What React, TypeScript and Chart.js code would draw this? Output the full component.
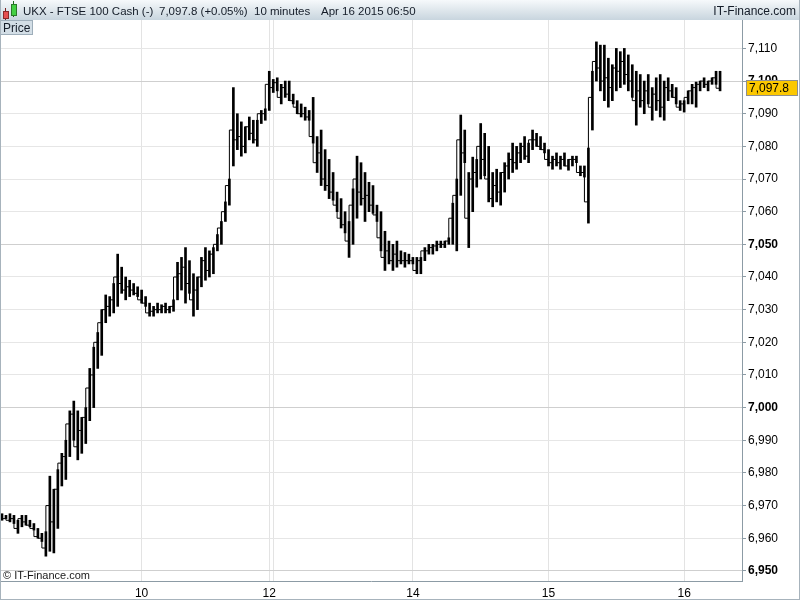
import React, { useEffect, useRef } from 'react';
import { Chart, registerables } from 'chart.js';

Chart.register(...registerables);

// 10-minute bars, UKX FTSE 100 Cash (low / high / close per bar)
const lows = [
  6965.5, 6966, 6965, 6964.5, 6961.5, 6963.5, 6964, 6963.5, 6962.5, 6960,
  6959, 6954.5, 6956, 6955.5, 6963, 6976, 6978, 6985, 6990, 6984,
  6986, 6989, 6996, 7000, 7012, 7016, 7026, 7028, 7029, 7031,
  7035, 7033, 7034, 7034.5, 7034, 7032, 7031, 7028, 7028, 7029,
  7029, 7029, 7029, 7029.5, 7033, 7036, 7032, 7035, 7028, 7030,
  7037, 7039, 7040, 7041, 7048, 7050, 7057, 7062, 7074, 7079,
  7077, 7078, 7082, 7081, 7080, 7087, 7088, 7091, 7096.5, 7097,
  7093, 7095, 7094, 7093, 7090, 7089, 7088, 7088, 7081, 7072,
  7068, 7066.5, 7064, 7063.5, 7060, 7055, 7053.5, 7046, 7050, 7058,
  7062, 7057, 7060, 7059.5, 7057, 7048, 7042, 7044, 7042, 7043,
  7044, 7043, 7044, 7044, 7041, 7041, 7045, 7047, 7047, 7048,
  7049, 7049, 7050, 7050, 7048, 7065, 7075, 7049, 7060, 7067.5,
  7070, 7071, 7063, 7061.5, 7063, 7062, 7066, 7070, 7072, 7073,
  7075, 7076, 7075, 7079, 7080, 7079, 7078, 7074, 7073, 7074,
  7073, 7074, 7072.7, 7074, 7075, 7071, 7070.6, 7056.5, 7085, 7100,
  7097, 7094, 7092, 7094, 7097, 7098, 7099, 7097, 7095, 7086.5,
  7092, 7090, 7093, 7088, 7091, 7089, 7088, 7094, 7095, 7093,
  7091, 7090.5, 7093, 7093, 7092, 7097, 7098, 7097, 7099, 7099,
  7097,
];

const highs = [
  6967.5, 6967, 6967.5, 6967, 6965.5, 6967, 6967, 6965.5, 6964.5, 6963,
  6961.5, 6962, 6979, 6975, 6981, 6986, 6990, 6999, 7002, 6999,
  6997, 7000, 7012, 7018.5, 7023, 7030, 7034.5, 7034, 7038, 7047,
  7043, 7040, 7039, 7038, 7037, 7036, 7034, 7032, 7031, 7032,
  7031.5, 7032, 7031, 7033, 7044.5, 7046, 7049, 7045, 7041, 7040,
  7046, 7049, 7048, 7049, 7053, 7057, 7063, 7070, 7098, 7090,
  7087.5, 7086, 7089, 7088, 7088, 7091, 7091.5, 7103, 7100.5, 7101,
  7099, 7100, 7100, 7096, 7094, 7093, 7092, 7091, 7095, 7083,
  7085, 7079, 7076, 7072, 7066, 7064, 7060, 7057, 7067, 7077,
  7075, 7072, 7069, 7068, 7062, 7060, 7054, 7051, 7050, 7051,
  7048, 7047.5, 7047, 7046, 7046, 7046, 7049, 7050, 7050, 7051,
  7051, 7051, 7052, 7062.6, 7070, 7089.6, 7085, 7072, 7076.7, 7076,
  7087, 7084, 7080, 7072, 7073, 7072, 7075, 7078, 7081, 7080,
  7081, 7083, 7081, 7085, 7084, 7083, 7081, 7079, 7077, 7078,
  7077, 7078, 7076, 7077, 7077, 7074, 7074, 7079.5, 7103, 7112,
  7111, 7111, 7107, 7105, 7110, 7109, 7110, 7108, 7105, 7103,
  7102, 7100, 7102, 7098, 7101, 7102, 7100, 7101, 7099, 7098,
  7094, 7094, 7097, 7099, 7099.7, 7100, 7101, 7100, 7101, 7103,
  7103,
];

const closes = [
  6966.5, 6966, 6965.5, 6966, 6963, 6966, 6965, 6964, 6963, 6960.5,
  6960, 6957, 6970, 6965, 6975, 6983, 6985, 6995, 6998, 6988,
  6993, 6997, 7006, 7010, 7020, 7026, 7030, 7031, 7033, 7040,
  7038, 7036, 7037, 7036, 7035, 7033, 7032, 7029, 7029.5, 7030,
  7030, 7031, 7030, 7031, 7040, 7041, 7043, 7038, 7033, 7036,
  7040, 7045, 7042, 7047, 7050, 7055, 7060, 7068, 7085, 7082,
  7083, 7080, 7086, 7084, 7082, 7090, 7090, 7099, 7098, 7099.5,
  7095, 7098, 7096, 7094, 7092, 7090, 7090, 7089, 7083, 7075,
  7078, 7070, 7068, 7066, 7062, 7058, 7056, 7051, 7062, 7070,
  7066, 7064, 7065, 7062, 7059, 7052, 7046, 7048, 7045, 7047,
  7045, 7045, 7045, 7045, 7042, 7045, 7048, 7048, 7049, 7049.5,
  7050, 7050, 7051, 7058, 7065, 7082, 7078, 7058, 7070, 7072,
  7080, 7076, 7070, 7064, 7068, 7066, 7072, 7074, 7076, 7075,
  7078, 7080, 7077, 7082, 7082, 7080, 7079, 7076, 7075, 7076,
  7075, 7076, 7074, 7076, 7076, 7072, 7072, 7063, 7095, 7106,
  7104, 7100, 7101, 7098, 7104, 7103, 7106, 7102, 7100, 7094,
  7097, 7094, 7097, 7092, 7096, 7094, 7092, 7098, 7097, 7095,
  7092, 7093, 7095, 7097, 7098, 7099, 7100, 7099, 7100, 7101,
  7097.8,
];

const dayTickIndex = [35, 67, 68, 103, 137, 171];
const dayTickLabels = ['10', '12', '', '14', '15', '16'];
const totalSlots = 186;
const yMin = 6946.9;
const yMax = 7118.7;
const lastPrice = 7097.8;

const titleText = 'UKX - FTSE 100 Cash (-)';
const priceText = '7,097.8 (+0.05%)';
const periodText = '10 minutes';
const dateText = 'Apr 16 2015 06:50';
const brandText = 'IT-Finance.com';

const FONT = '"Liberation Sans", Arial, sans-serif';
const AXIS_COLOR = '#8c9ba5';

const priceTagPlugin = {
  id: 'priceTag',
  afterDraw(chart: any) {
    const { ctx, scales } = chart;
    const y = scales.y;
    const py = Math.round(y.getPixelForValue(lastPrice));
    ctx.save();
    ctx.fillStyle = '#FCC800';
    ctx.fillRect(747, py - 7, 50, 14);
    ctx.strokeStyle = '#8f8f8f';
    ctx.lineWidth = 1;
    ctx.strokeRect(746.5, py - 7.5, 51, 15);
    ctx.fillStyle = '#000';
    ctx.font = '12px ' + FONT;
    ctx.textBaseline = 'middle';
    ctx.textAlign = 'left';
    ctx.fillText(lastPrice.toLocaleString('en-US', { minimumFractionDigits: 1 }), 749, py + 1);
    ctx.restore();
  },
};

function PriceChart() {
  const ref = useRef<HTMLCanvasElement | null>(null);
  useEffect(() => {
    if (!ref.current) return;
    const chart = new Chart(ref.current, {
      type: 'bar',
      data: {
        datasets: [
          {
            type: 'line',
            data: closes.map((c, i) => ({ x: i, y: c })),
            borderColor: '#000',
            borderWidth: 1,
            pointRadius: 0,
            stepped: 'after',
          } as any,
          {
            type: 'bar',
            data: lows.map((l, i) => ({ x: i, y: [l, highs[i]] })),
            backgroundColor: '#000',
            borderWidth: 0,
            barThickness: 2,
            minBarLength: 1,
            grouped: false,
          } as any,
        ],
      },
      options: {
        responsive: false,
        animation: false,
        events: [],
        layout: { padding: 0 },
        plugins: { legend: { display: false }, tooltip: { enabled: false }, title: { display: false } },
        scales: {
          x: {
            type: 'linear',
            min: -0.5,
            max: totalSlots - 0.5,
            offset: false,
            afterBuildTicks: (s: any) => {
              s.ticks = dayTickIndex.map((v) => ({ value: v }));
            },
            afterFit: (s: any) => {
              s.height = 19;
              s.paddingLeft = 0;
              s.paddingRight = 0;
            },
            ticks: {
              autoSkip: false,
              maxRotation: 0,
              minRotation: 0,
              padding: 5,
              color: '#000',
              font: { family: FONT, size: 12 },
              callback: (v: any) => {
                const k = dayTickIndex.indexOf(Number(v));
                return k >= 0 ? dayTickLabels[k] : '';
              },
            },
            grid: { color: '#e3e3e3', drawTicks: false, offset: false },
            border: { display: true, color: AXIS_COLOR, width: 1 },
          },
          y: {
            type: 'linear',
            position: 'right',
            min: yMin,
            max: yMax,
            beginAtZero: false,
            afterFit: (s: any) => {
              s.width = 58;
              s.paddingTop = 0;
              s.paddingBottom = 0;
            },
            ticks: {
              stepSize: 10,
              includeBounds: false,
              padding: 2,
              color: '#000',
              font: (ctx: any) => ({
                family: FONT,
                size: 12,
                weight: ctx.tick && ctx.tick.value % 50 === 0 ? 'bold' : 'normal',
              }),
              callback: (v: any) => Number(v).toLocaleString('en-US'),
            },
            grid: {
              color: (ctx: any) => (ctx.tick && ctx.tick.value % 50 === 0 ? '#cfcfcf' : '#e6e6e6'),
              tickColor: AXIS_COLOR,
              tickLength: 4,
              drawTicks: true,
            },
            border: { display: true, color: AXIS_COLOR, width: 1 },
          },
        },
      } as any,
      plugins: [priceTagPlugin],
    });
    return () => chart.destroy();
  }, []);
  return <canvas ref={ref} width={800} height={580} style={{ position: 'absolute', left: 0, top: 20, display: 'block' }} />;
}

export default function App() {
  const headerSpan = (text: string, left: number) => (
    <span style={{ position: 'absolute', left, top: 0, lineHeight: '23px', fontSize: 11.5, color: '#141c28', whiteSpace: 'nowrap' }}>{text}</span>
  );
  return (
    <div
      style={{
        position: 'absolute',
        left: 0,
        top: 0,
        width: 800,
        height: 600,
        background: '#fff',
        fontFamily: FONT,
        overflow: 'hidden',
      }}
    >
      <PriceChart />
      <div
        style={{
          position: 'absolute',
          left: 0,
          top: 0,
          width: 800,
          height: 20,
          background: 'linear-gradient(#f6f9fb, #c8d5de)',
        }}
      >
        {/* candlestick icon */}
        <div style={{ position: 'absolute', left: 5, top: 8, width: 1, height: 12, background: '#7a2020' }} />
        <div style={{ position: 'absolute', left: 3, top: 11, width: 4, height: 6, background: '#e55050', border: '1px solid #8a2a2a' }} />
        <div style={{ position: 'absolute', left: 13, top: 1, width: 1, height: 16, background: '#1f6a1f' }} />
        <div style={{ position: 'absolute', left: 11, top: 4, width: 4, height: 10, background: '#43d043', border: '1px solid #2a7a2a' }} />
        {headerSpan(titleText, 23)}
        {headerSpan(priceText, 159)}
        {headerSpan(periodText, 254)}
        {headerSpan(dateText, 321)}
        <span style={{ position: 'absolute', right: 4, top: 0, lineHeight: '23px', fontSize: 12, color: '#141c28', whiteSpace: 'nowrap' }}>{brandText}</span>
      </div>
      <div
        style={{
          position: 'absolute',
          left: 0,
          top: 20,
          width: 29,
          height: 13,
          background: '#d3dee6',
          border: '1px solid #9eaeba',
          fontSize: 12,
          lineHeight: '14px',
          color: '#141c28',
          paddingLeft: 2,
          boxSizing: 'content-box',
        }}
      >
        Price
      </div>
      <div style={{ position: 'absolute', left: 3, top: 569, fontSize: 11, lineHeight: '13px', color: '#1a1a1a', whiteSpace: 'nowrap' }}>
        © IT-Finance.com
      </div>
      <div
        style={{
          position: 'absolute',
          left: 0,
          top: 0,
          width: 800,
          height: 600,
          boxSizing: 'border-box',
          borderLeft: '1px solid #a7b3bc',
          borderRight: '1px solid #a7b3bc',
          borderBottom: '1px solid #a7b3bc',
          pointerEvents: 'none',
        }}
      />
    </div>
  );
}
